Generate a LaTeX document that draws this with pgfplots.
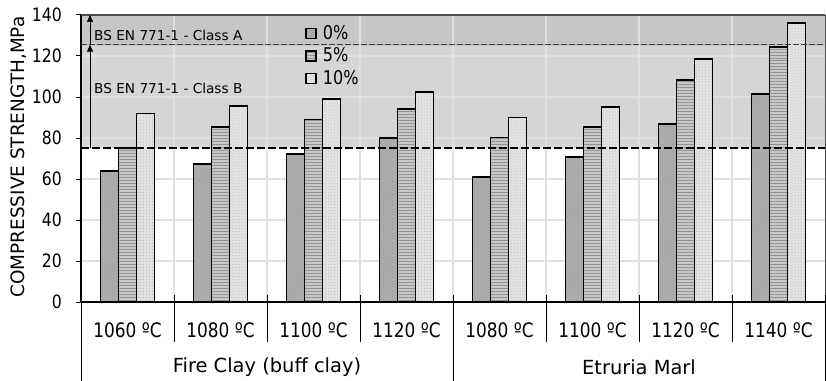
\documentclass[border=0pt]{standalone}
\usepackage{fontspec}
\setmainfont{DejaVu Sans}
\newfontfamily\narrow[FakeStretch=0.85]{DejaVu Sans}
\usepackage{pgfplots}
\pgfplotsset{compat=1.18}
\usetikzlibrary{patterns,arrows.meta}
\definecolor{bgB}{RGB}{213,213,213}
\definecolor{bgA}{RGB}{198,198,198}
\definecolor{gridc}{RGB}{224,224,224}
\definecolor{cA}{RGB}{175,175,175}
\definecolor{cB}{RGB}{200,200,200}
\definecolor{cC}{RGB}{226,226,226}
\pgfplotstableread{
x p0 p5 p10
0.5 64 75 92
1.5 67.3 85.4 95.6
2.5 72.2 89 99.2
3.5 80 94.3 102.4
4.5 61 80.2 90
5.5 70.9 85.2 95
6.5 86.8 108.3 118.7
7.5 101.3 124.5 136
}\datatable
\begin{document}
\begin{tikzpicture}
\begin{axis}[
  set layers,
  scale only axis,
  width=744bp, height=287bp,
  xmin=0, xmax=8, ymin=0, ymax=140,
  ytick={0,20,...,140},
  xtick={0.5,1.5,...,7.5},
  xticklabels={1060 ºC,1080 ºC,1100 ºC,1120 ºC,1080 ºC,1100 ºC,1120 ºC,1140 ºC},
  x tick label style={font=\narrow\fontsize{20}{22}\selectfont, anchor=center, inner sep=0pt, yshift=-23bp},
  major x tick style={draw=none},
  y tick label style={font=\narrow\fontsize{18.5}{20}\selectfont, inner sep=0pt, xshift=-14bp},
  /pgf/number format/assume math mode=true,
  ytick style={black, line width=1pt},
  tick align=outside,
  major tick length=5bp,
  ymajorgrids,
  extra x ticks={1,2,3,4,5,6,7},
  extra x tick labels={},
  extra x tick style={grid=major, major grid style={gridc, line width=1.2pt}, tick style={draw=none}},
  major grid style={gridc, line width=1.2pt},
  axis x line*=bottom, axis y line*=left,
  axis line style={black, line width=1.6pt},
  ybar=0pt,
  bar width=18bp,
  clip=false,
  legend style={at={(axis cs:2.41,135.2)}, anchor=north west, draw=none, fill=none,
    font=\narrow\fontsize{19}{21}\selectfont, row sep=4.5bp, inner sep=0pt,
    nodes={inner sep=0pt, text height=14bp, text depth=4bp}},
  legend cell align=left,
  legend image code/.code={\draw[line width=1.5pt,#1] (0bp,-4.5bp) rectangle (10bp,5.5bp); \path (16bp,0);},
]
\begin{pgfonlayer}{axis background}
\fill[bgB] (axis cs:0,75) rectangle (axis cs:8,125);
\fill[bgA] (axis cs:0,125) rectangle (axis cs:8,140);
\end{pgfonlayer}
\coordinate (O) at (axis cs:0,0);
\addplot[draw=black, line width=1.8pt, fill=cA, postaction={pattern=north east lines, pattern color=gray!75}] table[x=x,y=p0]{\datatable};
\addplot[draw=black, line width=1.8pt, fill=cB, postaction={pattern=horizontal lines, pattern color=gray!85}] table[x=x,y=p5]{\datatable};
\addplot[draw=black, line width=1.8pt, fill=cC, postaction={pattern=dots, pattern color=gray!60}] table[x=x,y=p10]{\datatable};
\legend{0\%,5\%,10\%}
\draw[black!75, line width=1.4pt, dash pattern=on 6bp off 2bp] (axis cs:0,125.5) -- (axis cs:8,125.5);
\draw[black, line width=1.8pt, dash pattern=on 8bp off 3bp] (axis cs:0,75) -- (axis cs:8,75);
\draw[black!70, line width=1.2pt] (axis cs:0,140) -- (axis cs:8,140);
\draw[black!70, line width=1pt] (axis cs:8,0) -- (axis cs:8,140);
\draw[-{Triangle[length=7bp,width=6bp]}, line width=0.6pt] (axis cs:0.097,75) -- (axis cs:0.097,125.5);
\draw[-{Triangle[length=7bp,width=6bp]}, line width=0.6pt] (axis cs:0.097,125.5) -- (axis cs:0.097,140);
\node[anchor=base west, font=\fontsize{13.7}{15}\selectfont, inner sep=0pt] at (axis cs:0.14,127.8) {BS EN 771-1 - Class A};
\node[anchor=base west, font=\fontsize{13.7}{15}\selectfont, inner sep=0pt] at (axis cs:0.14,101.5) {BS EN 771-1 - Class B};
\pgfplotsinvokeforeach{1,2,3,5,6,7}{\draw[line width=1pt] (axis cs:#1,0) ++(0,7bp) -- ++(0,-47bp);}
\pgfplotsinvokeforeach{0,4,8}{\draw[line width=1pt] (axis cs:#1,0) ++(0,7bp) -- ++(0,-86bp);}
\node[font=\fontsize{19.5}{21}\selectfont] at (axis cs:2,0) [yshift=-65bp] {Fire Clay (buff clay)};
\node[font=\fontsize{19.5}{21}\selectfont] at (axis cs:6,0) [yshift=-65bp] {Etruria Marl};
\path (axis cs:0,70.7) ++(-62bp,0) node[rotate=90, font=\fontsize{18.5}{20}\selectfont, inner sep=0pt] {COMPRESSIVE STRENGTH,MPa};
\end{axis}
\pgfresetboundingbox
\path (O) ++(-81bp,-79bp) rectangle ++(826bp,381bp);
\end{tikzpicture}
\end{document}
